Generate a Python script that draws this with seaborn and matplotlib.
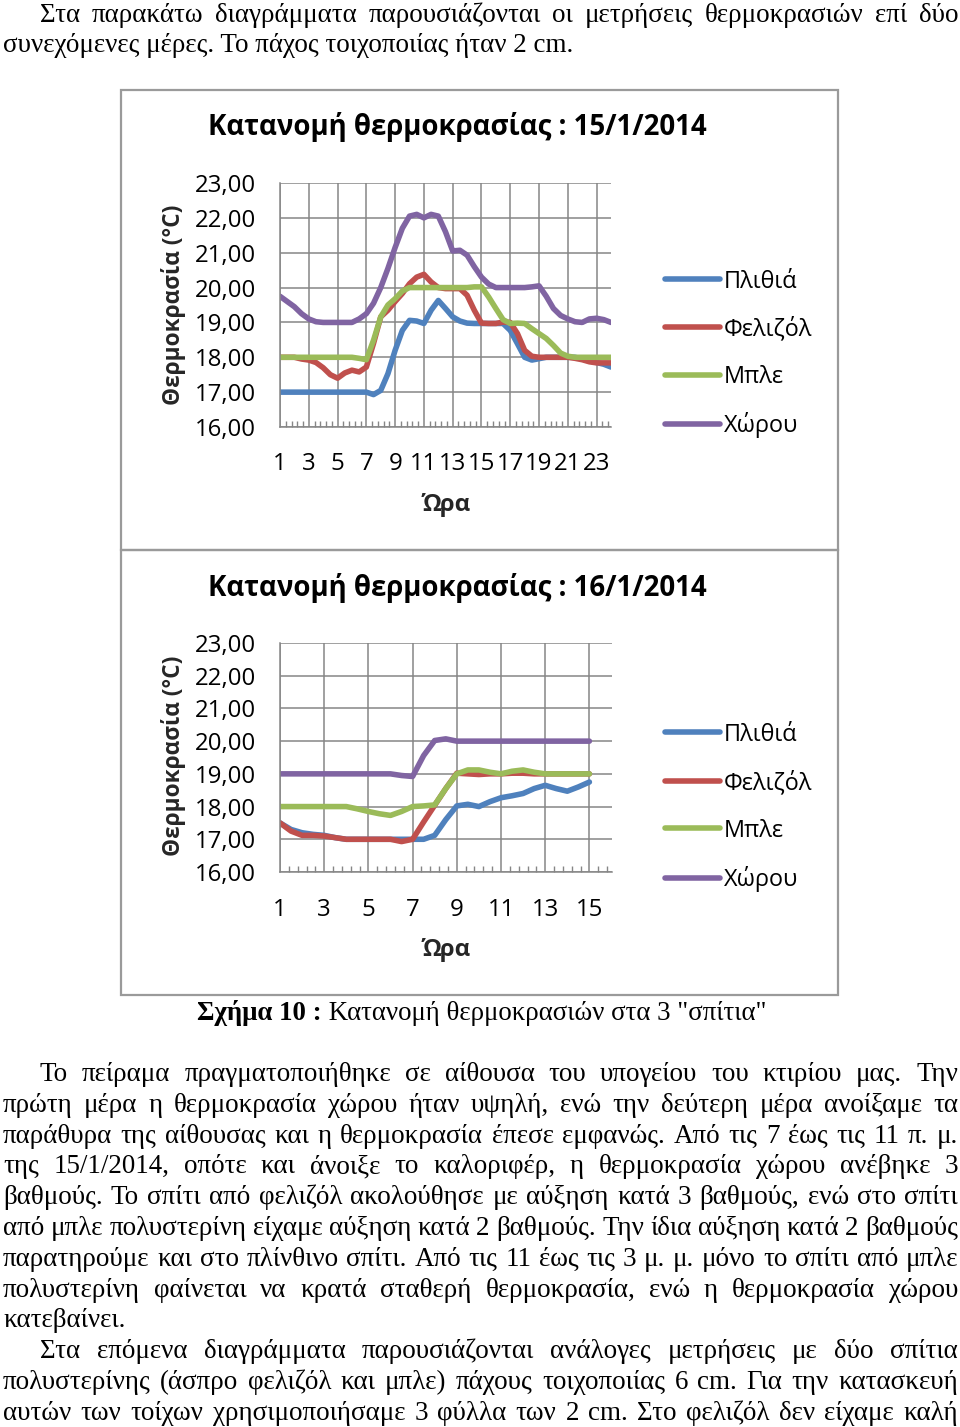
import numpy as np
import pandas as pd
import matplotlib
matplotlib.use("Agg")
import matplotlib.pyplot as plt
import seaborn as sns
from matplotlib.patches import Rectangle
from matplotlib.lines import Line2D

# ---------------- data ----------------
series_names = ["Πλιθιά", "Φελιζόλ", "Μπλε", "Χώρου"]
series_colors = ["#4F81BD", "#C0504D", "#9BBB59", "#8064A2"]

hours_day1 = [1, 1.5, 2, 2.5, 3, 3.5, 4, 4.5, 5, 5.5, 6, 6.5, 7, 7.5, 8, 8.5,
              9, 9.5, 10, 10.5, 11, 11.5, 12, 12.5, 13, 13.5, 14, 14.5, 15, 15.5,
              16, 16.5, 17, 17.5, 18, 18.5, 19, 19.5, 20, 20.5, 21, 21.5, 22, 22.5,
              23, 23.5, 24]
day1_plithia = [17.0, 17.0, 17.0, 17.0, 17.0, 17.0, 17.0, 17.0, 17.0, 17.0, 17.0, 17.0,
                17.0, 16.93, 17.05, 17.53, 18.2, 18.77, 19.06, 19.04, 18.97, 19.35,
                19.63, 19.4, 19.16, 19.04, 18.98, 18.97, 18.97, 18.97, 18.97, 18.97,
                18.77, 18.39, 18.0, 17.92, 17.96, 18.0, 18.0, 18.0, 18.0, 18.0, 17.95,
                17.9, 17.85, 17.8, 17.72]
day1_felizol = [18.0, 18.0, 18.0, 17.95, 17.92, 17.85, 17.7, 17.5, 17.4, 17.55, 17.63,
                17.58, 17.72, 18.4, 19.16, 19.35, 19.6, 19.83, 20.11, 20.3, 20.38,
                20.16, 20.0, 19.97, 19.97, 19.97, 19.78, 19.35, 18.98, 18.97, 18.97,
                19.01, 19.0, 18.68, 18.2, 18.03, 18.0, 18.0, 18.0, 18.0, 18.0, 17.97,
                17.93, 17.87, 17.84, 17.84, 17.84]
day1_mple = [18.0, 18.0, 18.0, 18.0, 18.0, 18.0, 18.0, 18.0, 18.0, 18.0, 18.0, 17.97,
             17.93, 18.49, 19.16, 19.5, 19.68, 19.9, 20.0, 20.0, 20.0, 20.0, 20.0, 20.0,
             20.0, 20.0, 20.0, 20.02, 20.02, 19.73, 19.4, 19.08, 18.97, 18.98, 18.97,
             18.82, 18.68, 18.54, 18.34, 18.12, 18.03, 18.0, 18.0, 18.0, 18.0, 18.0, 18.0]
day1_xorou = [19.75, 19.6, 19.45, 19.25, 19.1, 19.02, 19.0, 19.0, 19.0, 19.0, 19.0, 19.1,
              19.25, 19.55, 20.0, 20.55, 21.15, 21.7, 22.05, 22.1, 22.0, 22.1, 22.05,
              21.6, 21.05, 21.07, 20.93, 20.6, 20.3, 20.1, 20.0, 20.0, 20.0, 20.0, 20.0,
              20.02, 20.05, 19.75, 19.4, 19.2, 19.1, 19.02, 19.0, 19.1, 19.12, 19.08, 19.0]

hours_day2 = [1, 1.5, 2, 2.5, 3, 3.5, 4, 4.5, 5, 5.5, 6, 6.5, 7, 7.5, 8, 8.5,
              9, 9.5, 10, 10.5, 11, 11.5, 12, 12.5, 13, 13.5, 14, 14.5, 15]
day2_plithia = [17.5, 17.3, 17.2, 17.15, 17.12, 17.05, 17.0, 17.0, 17.0, 17.0, 17.0,
                17.0, 17.0, 17.0, 17.12, 17.6, 18.02, 18.07, 18.0, 18.15, 18.27, 18.33,
                18.4, 18.55, 18.65, 18.55, 18.47, 18.6, 18.75]
day2_felizol = [17.5, 17.25, 17.12, 17.12, 17.1, 17.05, 17.0, 17.0, 17.0, 17.0, 17.0,
                16.93, 17.0, 17.53, 18.04, 18.55, 19.02, 19.0, 18.98, 19.0, 19.0, 19.02,
                19.02, 19.0, 19.0, 19.0, 19.0, 19.0, 19.0]
day2_mple = [18.0, 18.0, 18.0, 18.0, 18.0, 18.0, 18.0, 17.93, 17.85, 17.78, 17.73, 17.85,
             18.0, 18.02, 18.05, 18.55, 19.0, 19.12, 19.12, 19.05, 19.0, 19.08, 19.12,
             19.05, 19.0, 19.0, 19.0, 19.0, 19.0]
day2_xorou = [19.0, 19.0, 19.0, 19.0, 19.0, 19.0, 19.0, 19.0, 19.0, 19.0, 19.0, 18.95,
              18.92, 19.56, 20.02, 20.07, 20.0, 20.0, 20.0, 20.0, 20.0, 20.0, 20.0, 20.0,
              20.0, 20.0, 20.0, 20.0, 20.0]

day1_xticks = [1, 3, 5, 7, 9, 11, 13, 15, 17, 19, 21, 23]
day2_xticks = [1, 3, 5, 7, 9, 11, 13, 15]
y_ticks = [16, 17, 18, 19, 20, 21, 22, 23]
y_ticklabels = ["16,00", "17,00", "18,00", "19,00", "20,00", "21,00", "22,00", "23,00"]

title_day1 = "Κατανομή θερμοκρασίας : 15/1/2014"
title_day2 = "Κατανομή θερμοκρασίας : 16/1/2014"
y_label = "Θερμοκρασία (°C)"
x_label = "Ώρα"

top_par = ["Στα παρακάτω διαγράμματα παρουσιάζονται οι μετρήσεις θερμοκρασιών επί δύο",
           "συνεχόμενες μέρες. Το πάχος τοιχοποιίας ήταν 2 cm."]
caption_bold = "Σχήμα 10 :"
caption_rest = " Κατανομή θερμοκρασιών στα 3 \"σπίτια\""
bottom_par = [
    "Το πείραμα πραγματοποιήθηκε σε αίθουσα του υπογείου του κτιρίου μας. Την",
    "πρώτη μέρα η θερμοκρασία χώρου ήταν υψηλή, ενώ την δεύτερη μέρα ανοίξαμε τα",
    "παράθυρα της αίθουσας και η θερμοκρασία έπεσε εμφανώς. Από τις 7 έως τις 11 π. μ.",
    "της 15/1/2014, οπότε και άνοιξε το καλοριφέρ, η θερμοκρασία χώρου ανέβηκε 3",
    "βαθμούς. Το σπίτι από φελιζόλ ακολούθησε με αύξηση κατά 3 βαθμούς, ενώ στο σπίτι",
    "από μπλε πολυστερίνη είχαμε αύξηση κατά 2 βαθμούς. Την ίδια αύξηση κατά 2 βαθμούς",
    "παρατηρούμε και στο πλίνθινο σπίτι. Από τις 11 έως τις 3 μ. μ. μόνο το σπίτι από μπλε",
    "πολυστερίνη φαίνεται να κρατά σταθερή θερμοκρασία, ενώ η θερμοκρασία χώρου",
    "κατεβαίνει.",
    "Στα επόμενα διαγράμματα παρουσιάζονται ανάλογες μετρήσεις με δύο σπίτια",
    "πολυστερίνης (άσπρο φελιζόλ και μπλε) πάχους τοιχοποιίας 6 cm. Για την κατασκευή",
    "αυτών των τοίχων χρησιμοποιήσαμε 3 φύλλα των 2 cm. Στο φελιζόλ δεν είχαμε καλή",
]

# ---------------- setup ----------------
W, H = 960, 1427
sns.set_theme(style="white")
SANS = ["Open Sans", "DejaVu Sans"]
SERIF = ["Liberation Serif", "DejaVu Serif"]
plt.rcParams["font.family"] = SANS
plt.rcParams["text.color"] = "black"

fig = plt.figure(figsize=(W / 100, H / 100), dpi=100)
fig.patch.set_facecolor("white")
ov = fig.add_axes([0, 0, 1, 1])
ov.set_xlim(0, W)
ov.set_ylim(H, 0)
ov.axis("off")
ov.patch.set_visible(False)
R = fig.canvas.get_renderer()


def text_box(s, size, **kw):
    t = ov.text(0, 0, s, fontsize=size, **kw)
    bb = t.get_window_extent(R)
    t.remove()
    return bb.width, bb.height


def fit_size(s, target, **kw):
    w, _ = text_box(s, 10, **kw)
    return 10 * target / w


# ---------------- body text ----------------
body_size = fit_size(top_par[1], 569, family=SERIF)


def place_left(s, x, y, size, **kw):
    ov.text(x, y, s, fontsize=size, family=SERIF, ha="left", va="baseline", color="black", **kw)


def place_justified(s, x0, x1, y, size):
    words = s.split(" ")
    widths = [text_box(w, size, family=SERIF)[0] for w in words]
    gap = (x1 - x0 - sum(widths)) / (len(words) - 1)
    x = x0
    for w, wd in zip(words, widths):
        place_left(w, x, y, size)
        x += wd + gap


place_justified(top_par[0], 40, 958, 22, body_size)
place_left(top_par[1], 3, 52, body_size)

for k, line in enumerate(bottom_par):
    y = 1081 + 30.8 * k
    if k in (8,):
        place_left(line, 3, y, body_size)
    elif k in (0, 9):
        place_justified(line, 40, 958, y, body_size)
    else:
        place_justified(line, 3, 958, y, body_size)

# caption
wb, _ = text_box(caption_bold, 10, family=SERIF, fontweight="bold")
wr, _ = text_box(caption_rest, 10, family=SERIF)
cap_size = 10 * 568 / (wb + wr)
place_left(caption_bold, 197, 1020, cap_size, fontweight="bold")
place_left(caption_rest, 197 + wb * cap_size / 10, 1020, cap_size)

# chart frames
for (x0, y0, x1, y1) in [(121, 90, 838, 550), (121, 550, 838, 995)]:
    ov.add_patch(Rectangle((x0, y0), x1 - x0, y1 - y0, fill=False,
                           edgecolor="#9a9a9a", lw=1.6))

# ---------------- charts ----------------
GRID = "#868686"
LW = 4.0
L = 280
tick_size = fit_size("23,00", 61)
tick_px = tick_size * 100 / 72
title_size = fit_size(title_day1, 499, fontweight="bold")
ylab_size = fit_size(y_label, 200, fontweight="bold")
xlab_size = fit_size(x_label, 49, fontweight="bold")
leg_size = fit_size("Φελιζόλ", 88)
leg_px = leg_size * 100 / 72
_, tick_h = text_box("1", tick_size)
_, leg_h = text_box("Φελιζόλ", leg_size)


def add_chart(top, bottom, right, hours, vals, xmax, xticks, title, title_y,
              xlab_y, ylab_y, tick_y, leg_center, leg_pitch):
    ax = fig.add_axes([L / W, 1 - bottom / H, (right - L) / W, (bottom - top) / H])
    n = len(hours)
    df = pd.DataFrame({
        "Ώρα": np.tile(hours, 4),
        "T": np.concatenate(vals),
        "Σειρά": np.repeat(series_names, n),
    })
    sns.lineplot(data=df, x="Ώρα", y="T", hue="Σειρά", hue_order=series_names,
                 palette=dict(zip(series_names, series_colors)), linewidth=LW,
                 ax=ax, legend=False, sort=False, estimator=None)
    for ln in ax.lines:
        ln.set_solid_capstyle("round")
        ln.set_solid_joinstyle("round")
    ax.set_xlim(1, xmax)
    ax.set_ylim(16, 23)
    ax.set_xticks(xticks)
    ax.set_xticklabels([str(t) for t in xticks])
    ax.set_xticks(np.arange(1, xmax + 0.01, 0.4), minor=True)
    ax.set_yticks(y_ticks)
    ax.set_yticklabels(y_ticklabels)
    ax.grid(True, which="major", color=GRID, lw=1.1)
    ax.set_axisbelow(True)
    for s in ["top", "right"]:
        ax.spines[s].set_visible(False)
    for s in ["left", "bottom"]:
        ax.spines[s].set_color(GRID)
        ax.spines[s].set_linewidth(1.1)
    xpad = (tick_y - tick_h / 2 - bottom) * 72 / 100
    ax.tick_params(axis="x", which="major", length=0, pad=xpad,
                   labelsize=tick_size, labelcolor="black")
    ax.tick_params(axis="x", which="minor", direction="in", length=4.5,
                   width=1, color=GRID, bottom=True)
    ax.tick_params(axis="y", length=0, pad=(L - 256) * 72 / 100,
                   labelsize=tick_size, labelcolor="black")
    ax.set_ylabel(y_label, fontsize=ylab_size, fontweight="bold")
    ax.yaxis.label.set(va="center", ha="center")
    ax.yaxis.set_label_coords((173 - L) / (right - L), (bottom - ylab_y) / (bottom - top))
    ax.set_xlabel(x_label, fontsize=xlab_size, fontweight="bold")
    ax.xaxis.label.set(va="center", ha="center")
    ax.xaxis.set_label_coords((446 - L) / (right - L), (bottom - xlab_y) / (bottom - top))
    ax.set_title(title, x=(457 - L) / (right - L), y=(bottom - title_y) / (bottom - top),
                 va="center", ha="center", fontsize=title_size, fontweight="bold", pad=0)
    handles = [Line2D([0], [0], color=c, lw=LW, solid_capstyle="round")
               for c in series_colors]
    ax.legend(handles, series_names, loc="center left",
              bbox_to_anchor=(665 / W, 1 - leg_center / H),
              bbox_transform=fig.transFigure, frameon=False, fontsize=leg_size,
              handlelength=55 / leg_px, handletextpad=4 / leg_px,
              labelspacing=(leg_pitch - leg_h) / leg_px, borderpad=0,
              borderaxespad=0)
    return ax


add_chart(183, 427, 611, hours_day1,
          [day1_plithia, day1_felizol, day1_mple, day1_xorou], 24, day1_xticks,
          title_day1, 127, 505, 305, 464, 354, 48)
add_chart(643, 872, 611.5, hours_day2,
          [day2_plithia, day2_felizol, day2_mple, day2_xorou], 16, day2_xticks,
          title_day2, 588, 950, 756, 910, 807.5, 48.3)

fig.savefig("out.png", dpi=100, facecolor="white")
